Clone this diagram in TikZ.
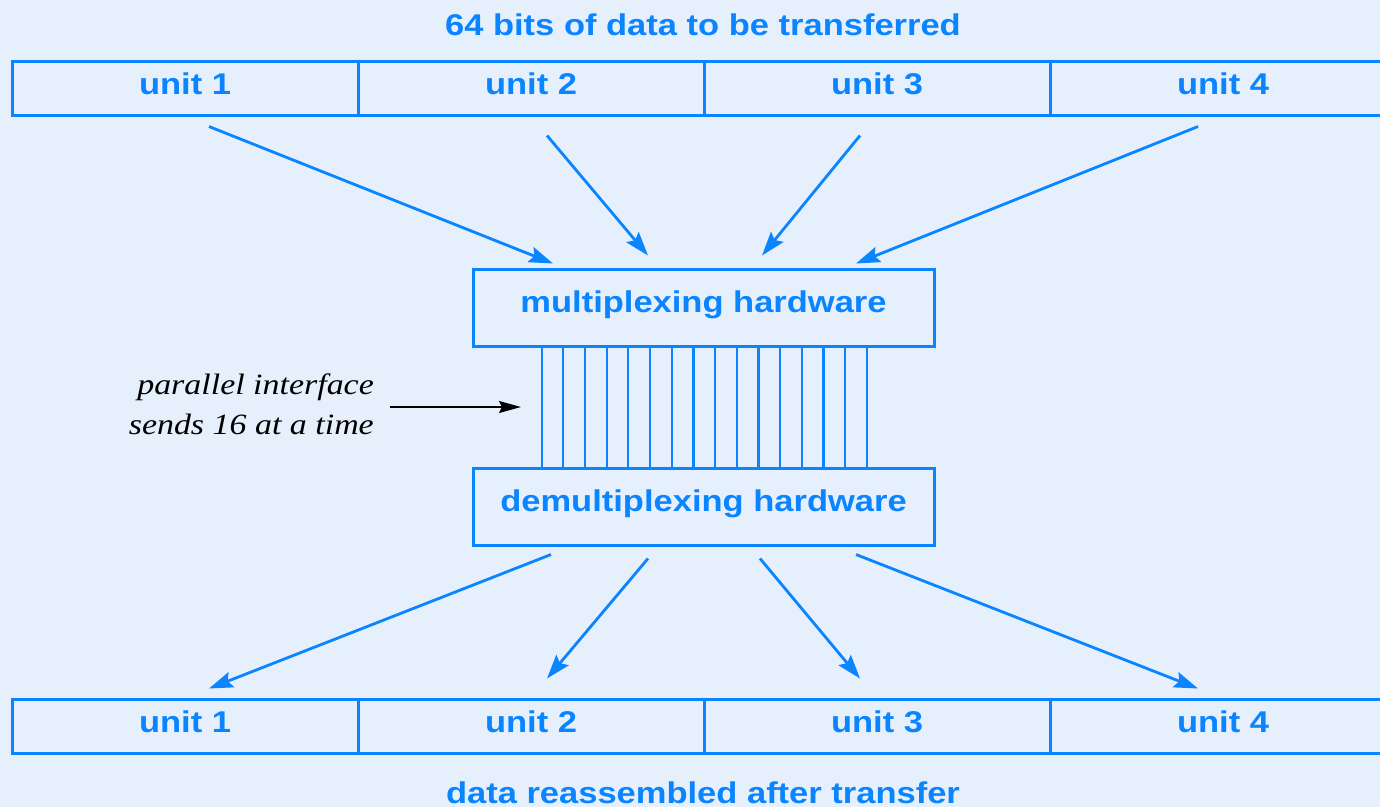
\documentclass[tikz,border=0pt]{standalone}
\usepackage{fontspec}
\setmainfont{Liberation Sans}[FakeStretch=1.15]
\newfontfamily\lserif{Liberation Serif}[FakeStretch=1.15]
\usetikzlibrary{arrows.meta,calc}
\definecolor{bg}{RGB}{230,240,252}
\definecolor{bl}{RGB}{10,132,255}
\tikzset{
  unitbox/.style={draw=bl, line width=3pt, minimum width=346pt, minimum height=54pt, inner sep=0pt,
    text=bl, font=\fontsize{30}{36}\selectfont\bfseries, text height=22pt, text depth=9pt},
  hwbox/.style={draw=bl, line width=3pt, minimum width=461pt, minimum height=77pt, inner sep=0pt,
    text=bl, font=\fontsize{30}{36}\selectfont\bfseries, text height=22pt, text depth=13pt},
  title/.style={text=bl, font=\fontsize{30}{36}\selectfont\bfseries, anchor=base, inner sep=0pt},
  flow/.style={draw=bl, line width=2.8pt, -{Stealth[length=24pt,width=16pt,inset=4pt]}},
  wire/.style={draw=bl, line width=2.2pt},
  note/.style={font=\lserif\itshape\fontsize{29.5}{40}\selectfont, align=right, anchor=east, inner sep=0pt},
  pointer/.style={draw=black, line width=2pt, -{Stealth[length=22pt,width=12pt,inset=3pt]}}
}
\begin{document}
\begin{tikzpicture}[x=1pt,y=-1pt]
\fill[bg] (0,0) rectangle (1380,807);
\clip (0,0) rectangle (1380,807);
\node[title] (t1) at (703,35) {64 bits of data to be transferred};
\node[title] (t2) at (703,803) {data reassembled after transfer};
\node[unitbox] (u1) at (185,88) {unit 1};
\node[unitbox] (u2) at (531,88) {unit 2};
\node[unitbox] (u3) at (877,88) {unit 3};
\node[unitbox] (u4) at (1223,88) {unit 4};
\node[unitbox] (b1) at (185,726) {unit 1};
\node[unitbox] (b2) at (531,726) {unit 2};
\node[unitbox] (b3) at (877,726) {unit 3};
\node[unitbox] (b4) at (1223,726) {unit 4};
\node[hwbox] (mux) at (703.5,307.5) {multiplexing hardware};
\node[hwbox] (dmx) at (703.5,506.5) {demultiplexing hardware};
\foreach \i in {0,...,15}{
  \draw[wire] ($(mux.south)+(-161.8+\i*21.67,0)$) -- ($(dmx.north)+(-161.8+\i*21.67,0)$);
}
\draw[flow] ($(u1.south)+(24,10)$) -- ($(mux.north)+(-150.5,-4)$);
\draw[flow] ($(u2.south)+(16,19)$) -- ($(mux.north)+(-55.5,-12)$);
\draw[flow] ($(u3.south)+(-17,19)$) -- ($(mux.north)+(58.5,-12)$);
\draw[flow] ($(u4.south)+(-25,10)$) -- ($(mux.north)+(152.5,-4)$);
\draw[flow] ($(dmx.south)+(-152.5,8)$) -- ($(b1.north)+(24,-9)$);
\draw[flow] ($(dmx.south)+(-55.5,12)$) -- ($(b2.north)+(16,-19)$);
\draw[flow] ($(dmx.south)+(56.5,12)$) -- ($(b3.north)+(-17,-19)$);
\draw[flow] ($(dmx.south)+(152.5,8)$) -- ($(b4.north)+(-25,-9)$);
\node[note] (lbl) at (374,404) {parallel interface\\sends 16 at a time};
\coordinate (ifc) at (521,407);
\draw[pointer] ($(lbl.east)+(16,3)$) -- (ifc);
\end{tikzpicture}
\end{document}
